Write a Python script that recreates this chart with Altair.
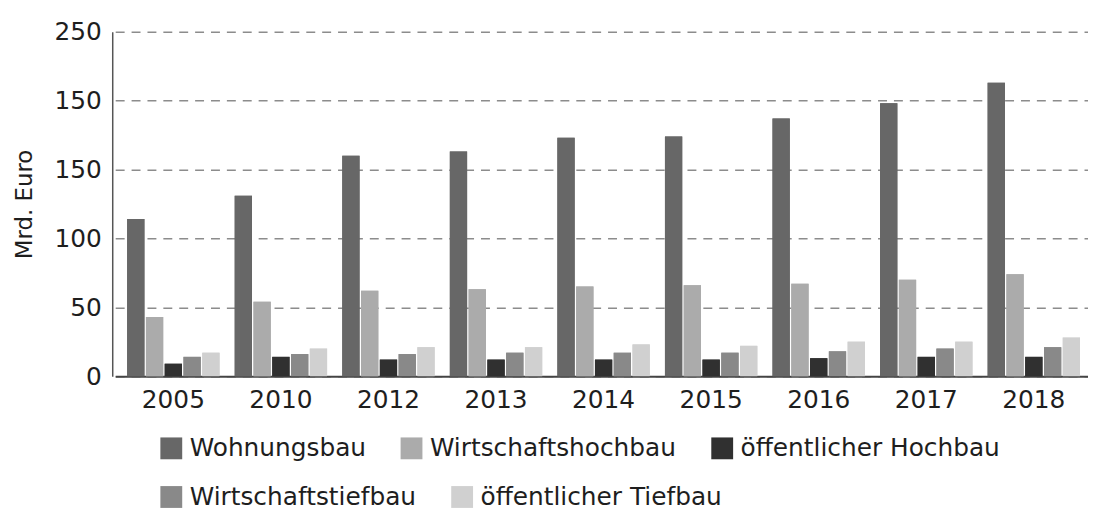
import altair as alt
import pandas as pd

years = ["2005", "2010", "2012", "2013", "2014", "2015", "2016", "2017", "2018"]
series = ["Wohnungsbau", "Wirtschaftshochbau", "öffentlicher Hochbau",
          "Wirtschaftstiefbau", "öffentlicher Tiefbau"]
colors = ["#676767", "#ababab", "#303030", "#898989", "#d0d0d0"]

wohnungsbau = [114, 131, 160, 163, 173, 174, 187, 198, 213]
wirtschaftshochbau = [43, 54, 62, 63, 65, 66, 67, 70, 74]
oeff_hochbau = [9, 14, 12, 12, 12, 12, 13, 14, 14]
wirtschaftstiefbau = [14, 16, 16, 17, 17, 17, 18, 20, 21]
oeff_tiefbau = [17, 20, 21, 21, 23, 22, 25, 25, 28]

y_ticks = [0, 50, 100, 150, 200, 250]

values = [wohnungsbau, wirtschaftshochbau, oeff_hochbau, wirtschaftstiefbau, oeff_tiefbau]
rows = []
for s, vals in zip(series, values):
    for y, v in zip(years, vals):
        rows.append({"Jahr": y, "Bereich": s, "Wert": v})
df = pd.DataFrame(rows)

FONT = "DejaVu Sans"
TXT = "#1e1e1e"

legend_common = dict(title=None, orient="none", legendX=47,
                     direction="horizontal", symbolType="square",
                     symbolSize=484, symbolStrokeWidth=0,
                     labelFont=FONT, labelFontSize=25, labelColor=TXT,
                     labelOffset=6, labelLimit=500, columnPadding=33,
                     padding=0)

base = alt.Chart(df).mark_bar().encode(
    x=alt.X("Jahr:N", sort=years, title=None,
            scale=alt.Scale(paddingInner=0.141, paddingOuter=0.111,
                            range=[3, 987]),
            axis=alt.Axis(labelAngle=0, labelFont=FONT, labelFontSize=25,
                          labelColor=TXT, labelPadding=12, ticks=False,
                          domainColor="#444444", domainWidth=2, grid=False)),
    xOffset=alt.XOffset("Bereich:N", sort=series,
                        scale=alt.Scale(paddingInner=0.08, paddingOuter=0)),
    y=alt.Y("Wert:Q", title="Mrd. Euro",
            scale=alt.Scale(domain=[0, 250], nice=False),
            axis=alt.Axis(values=y_ticks,
                          labelExpr="datum.value == 200 ? '150' : datum.label",
                          labelFont=FONT, labelFontSize=25, labelColor=TXT,
                          labelPadding=11, ticks=False,
                          titleFont=FONT, titleFontSize=23, titleColor=TXT,
                          titleFontWeight="normal", titlePadding=18,
                          domainColor="#555555", domainWidth=1.5,
                          grid=True, gridColor="#8c8c8c", gridWidth=1.5,
                          gridDash=[9, 7])),
)

row1 = base.encode(
    color=alt.Color("Bereich:N", sort=series,
                    scale=alt.Scale(domain=series, range=colors),
                    legend=alt.Legend(values=series[:3], legendY=407,
                                      **legend_common)),
)

row2 = base.encode(
    fill=alt.Fill("Bereich:N", sort=series,
                  scale=alt.Scale(range=colors),
                  legend=alt.Legend(values=series[3:], legendY=456,
                                    **legend_common)),
)

chart = alt.layer(row1, row2).resolve_scale(
    color="independent", fill="independent"
).properties(
    width=983,
    height=347,
    autosize=alt.AutoSizeParams(type="none"),
    padding={"left": 105, "top": 22, "right": 0, "bottom": 136},
    background="#ffffff",
).configure_view(stroke=None)

chart.save("out.html", embed_options={"renderer": "svg", "actions": False})
